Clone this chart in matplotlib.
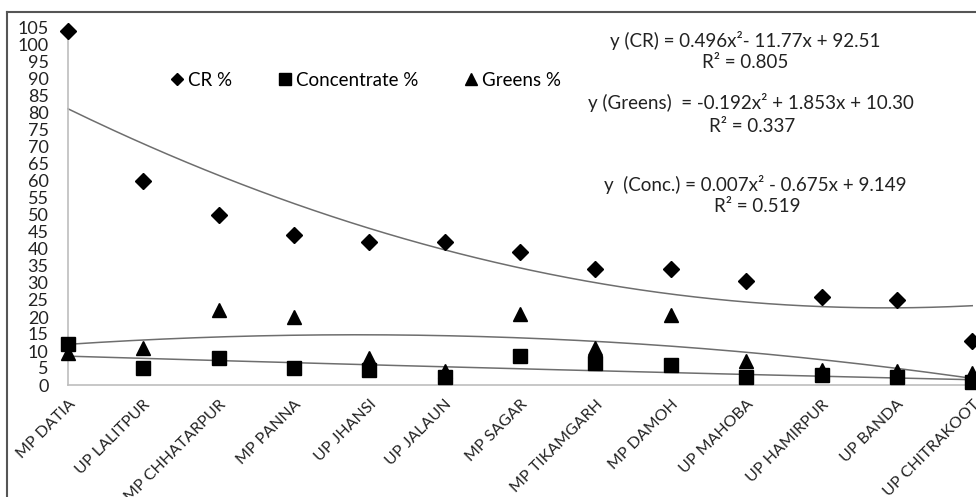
import numpy as np
import matplotlib
matplotlib.use("Agg")
import matplotlib.pyplot as plt
from matplotlib.lines import Line2D

plt.rcParams['font.family'] = ['Lato', 'DejaVu Sans']

# data
districts = ["MP DATIA", "UP LALITPUR", "MP CHHATARPUR", "MP PANNA", "UP JHANSI",
             "UP JALAUN", "MP SAGAR", "MP TIKAMGARH", "MP DAMOH", "UP MAHOBA",
             "UP HAMIRPUR", "UP BANDA", "UP CHITRAKOOT"]
cr = [104, 60, 50, 44, 42, 42, 39, 34, 34, 30.5, 26, 25, 13]
conc = [12, 5, 8, 5, 4.5, 2.5, 8.5, 6.5, 6, 2.5, 3, 2.5, 1]
greens = [9.5, 11, 22, 20, 8, 4, 21, 11, 20.5, 7, 4.5, 4, 3.5]

# polynomial trendline coefficients (x = 1..13) as printed on the chart
cr_fit = [0.496, -11.77, 92.51]
greens_fit = [-0.192, 1.853, 10.30]
conc_fit = [0.007, -0.675, 9.149]

fig = plt.figure(figsize=(9.76, 4.97), dpi=100)
ax = fig.add_axes([68 / 976, 1 - 385 / 497, 1 - 68 / 976, (385 - 28) / 497])

x = np.arange(len(districts))
xs = np.linspace(1, len(districts), 200)
for c in [cr_fit, greens_fit, conc_fit]:
    ax.plot(xs - 1, np.polyval(c, xs), color='#6e6e6e', lw=1.1, zorder=2, clip_on=False)

ax.plot(x, cr, 'D', color='black', ms=8, ls='none', zorder=3, clip_on=False)
ax.plot(x, conc, 's', color='black', ms=10, ls='none', zorder=3, clip_on=False)
ax.plot(x, greens, '^', color='black', ms=10, ls='none', zorder=4, clip_on=False)

ax.set_xlim(0, 12.05)
ax.set_ylim(0, 105)
ax.set_yticks(np.arange(0, 106, 5))
ax.set_xticks(x)
ax.set_xticklabels(districts, rotation=45, ha='right', rotation_mode='anchor', fontsize=11.5)
ax.tick_params(axis='both', length=0, colors='#222222')
ax.tick_params(axis='y', pad=14, labelsize=13)
ax.tick_params(axis='x', pad=9)
for s in ['top', 'right']:
    ax.spines[s].set_visible(False)
for s in ['left', 'bottom']:
    ax.spines[s].set_color('#bdbdbd')
    ax.spines[s].set_linewidth(1.2)

handles = [Line2D([], [], marker='D', color='black', ls='none', ms=6),
           Line2D([], [], marker='s', color='black', ls='none', ms=8),
           Line2D([], [], marker='^', color='black', ls='none', ms=8)]
ax.legend(handles, ["CR %", "Concentrate %", "Greens %"], ncol=3, frameon=False,
          loc='center', bbox_to_anchor=(365 / 976, 1 - 80 / 497),
          bbox_transform=fig.transFigure, fontsize=13.5, handlelength=0.8,
          handletextpad=0.2, columnspacing=2.4)

eqs = [("y (CR) = 0.496x²- 11.77x + 92.51", 745, 40),
       ("R² = 0.805", 745, 62),
       ("y (Greens)  = -0.192x² + 1.853x + 10.30", 751, 103),
       ("R² = 0.337", 752, 127),
       ("y  (Conc.) = 0.007x² - 0.675x + 9.149", 755, 184),
       ("R² = 0.519", 757, 207)]
for t, px, py in eqs:
    fig.text(px / 976, 1 - py / 497, t, ha='center', va='center', fontsize=13.5, color='#222222')

# outer chart border
fig.add_artist(Line2D([7 / 976, 7 / 976], [0, 1 - 12 / 497], transform=fig.transFigure,
                      color='#555555', lw=1.5))
fig.add_artist(Line2D([7 / 976, 1], [1 - 12 / 497, 1 - 12 / 497], transform=fig.transFigure,
                      color='#555555', lw=1.5))

fig.savefig("out.png", dpi=100)
